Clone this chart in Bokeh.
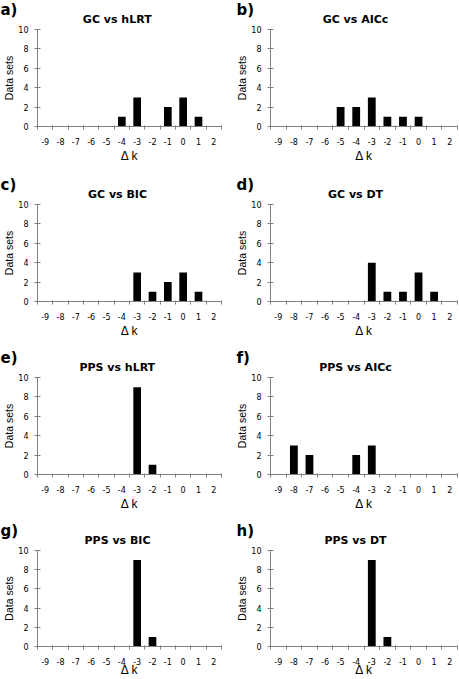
from bokeh.plotting import figure
from bokeh.layouts import column, row
from bokeh.models import Range1d, FixedTicker, Title
from bokeh.embed import file_html
from bokeh.resources import INLINE

# ---- data -------------------------------------------------------------
delta_k = [-9, -8, -7, -6, -5, -4, -3, -2, -1, 0, 1, 2]

gc_hlrt = [0, 0, 0, 0, 0, 1, 3, 0, 2, 3, 1, 0]
gc_aicc = [0, 0, 0, 0, 2, 2, 3, 1, 1, 1, 0, 0]
gc_bic = [0, 0, 0, 0, 0, 0, 3, 1, 2, 3, 1, 0]
gc_dt = [0, 0, 0, 0, 0, 0, 4, 1, 1, 3, 1, 0]
pps_hlrt = [0, 0, 0, 0, 0, 0, 9, 1, 0, 0, 0, 0]
pps_aicc = [0, 3, 2, 0, 0, 2, 3, 0, 0, 0, 0, 0]
pps_bic = [0, 0, 0, 0, 0, 0, 9, 1, 0, 0, 0, 0]
pps_dt = [0, 0, 0, 0, 0, 0, 9, 1, 0, 0, 0, 0]

panel_letters = ["a)", "b)", "c)", "d)", "e)", "f)", "g)", "h)"]
panel_titles = ["GC vs hLRT", "GC vs AICc", "GC vs BIC", "GC vs DT",
                "PPS vs hLRT", "PPS vs AICc", "PPS vs BIC", "PPS vs DT"]
panel_counts = [gc_hlrt, gc_aicc, gc_bic, gc_dt,
                pps_hlrt, pps_aicc, pps_bic, pps_dt]
y_ticks = [0, 2, 4, 6, 8, 10]
y_label = "Data sets"
x_label = "\u0394 k"

# ---- style ------------------------------------------------------------
AXIS_GRAY = "#808080"
FH = 97  # frame height
ROW_T = [29, 30, 29, 29]
ROW_B = [48, 47, 47, 32]
# approximate DejaVu Sans Bold advance widths (em) for centring titles
_BOLD_W = {'G': 0.821, 'C': 0.734, ' ': 0.348, 'v': 0.652, 's': 0.595,
           'h': 0.712, 'L': 0.637, 'R': 0.770, 'T': 0.682, 'A': 0.774,
           'I': 0.372, 'c': 0.593, 'B': 0.762, 'D': 0.830, 'P': 0.733,
           'S': 0.720}
TITLE_PX = 11


def text_w(s, px):
    return sum(_BOLD_W.get(ch, 0.65) for ch in s) * px


def make_panel(idx):
    rowi, col = divmod(idx, 2)
    T, B = ROW_T[rowi], ROW_B[rowi]
    H = T + FH + B
    if col == 0:
        L, FW, R = 37, 184, 8
        title_c, letter_off = 80, -37
    else:
        L, FW, R = 41, 187, 2
        title_c, letter_off = 85, -34
    W = L + FW + R

    p = figure(width=W, height=H,
               x_range=Range1d(delta_k[0] - 0.5, delta_k[-1] + 0.5),
               y_range=Range1d(y_ticks[0], y_ticks[-1]),
               output_backend="svg", toolbar_location=None,
               min_border_left=L, min_border_right=R,
               min_border_top=T, min_border_bottom=B,
               title=panel_letters[idx])
    p.outline_line_color = None
    p.xgrid.visible = False
    p.ygrid.visible = False
    p.background_fill_color = "white"
    p.border_fill_color = "white"

    counts = panel_counts[idx]
    xs = [k for k, c in zip(delta_k, counts) if c > 0]
    tops = [c for c in counts if c > 0]
    p.vbar(x=xs, top=tops, width=0.5, fill_color="black", line_color=None)

    # panel letter (outermost title)
    p.title.align = "left"
    p.title.offset = letter_off
    p.title.standoff = -25
    p.title.text_font = "DejaVu Sans"
    p.title.text_font_style = "bold"
    p.title.text_font_size = "15px"
    p.title.text_color = "black"
    # panel title (next to the plot area)
    p.add_layout(Title(text=panel_titles[idx], align="left",
                       offset=title_c - text_w(panel_titles[idx], TITLE_PX) / 2,
                       standoff=8, text_font="DejaVu Sans",
                       text_font_style="bold", text_font_size=f"{TITLE_PX}px",
                       text_color="black"), "above")

    # x axis: labels at categories, tick marks between categories
    xa = p.xaxis[0]
    xa.ticker = FixedTicker(ticks=delta_k,
                            minor_ticks=[k - 0.5 for k in delta_k] + [delta_k[-1] + 0.5])
    xa.major_label_overrides = {k: str(k) for k in delta_k}
    xa.axis_line_color = AXIS_GRAY
    xa.major_tick_in = 0
    xa.major_tick_out = 0
    xa.major_tick_line_color = None
    xa.minor_tick_line_color = AXIS_GRAY
    xa.minor_tick_in = 1
    xa.minor_tick_out = 3
    xa.major_label_standoff = 8
    xa.major_label_text_font = "DejaVu Sans"
    xa.major_label_text_font_size = "8px"
    xa.major_label_text_color = "black"
    xa.axis_label = x_label
    xa.axis_label_text_font = "Liberation Sans"
    xa.axis_label_text_font_style = "normal"
    xa.axis_label_text_font_size = "12px"
    xa.axis_label_text_color = "black"
    xa.axis_label_standoff = -5 if rowi == 3 else 1

    ya = p.yaxis[0]
    ya.ticker = FixedTicker(ticks=y_ticks)
    ya.axis_line_color = AXIS_GRAY
    ya.major_tick_line_color = AXIS_GRAY
    ya.major_tick_in = 3
    ya.major_tick_out = 3
    ya.minor_tick_line_color = None
    ya.major_label_standoff = 6
    ya.major_label_text_font = "DejaVu Sans"
    ya.major_label_text_font_size = "8px"
    ya.major_label_text_color = "black"
    ya.axis_label = y_label
    ya.axis_label_text_font = "Liberation Sans"
    ya.axis_label_text_font_style = "normal"
    ya.axis_label_text_font_size = "10.5px"
    ya.axis_label_text_color = "black"
    ya.axis_label_standoff = 0
    return p


panels = [make_panel(i) for i in range(8)]
layout = column(*[row(panels[2 * r], panels[2 * r + 1]) for r in range(4)])

open("out.html", "w").write(file_html(layout, INLINE))
